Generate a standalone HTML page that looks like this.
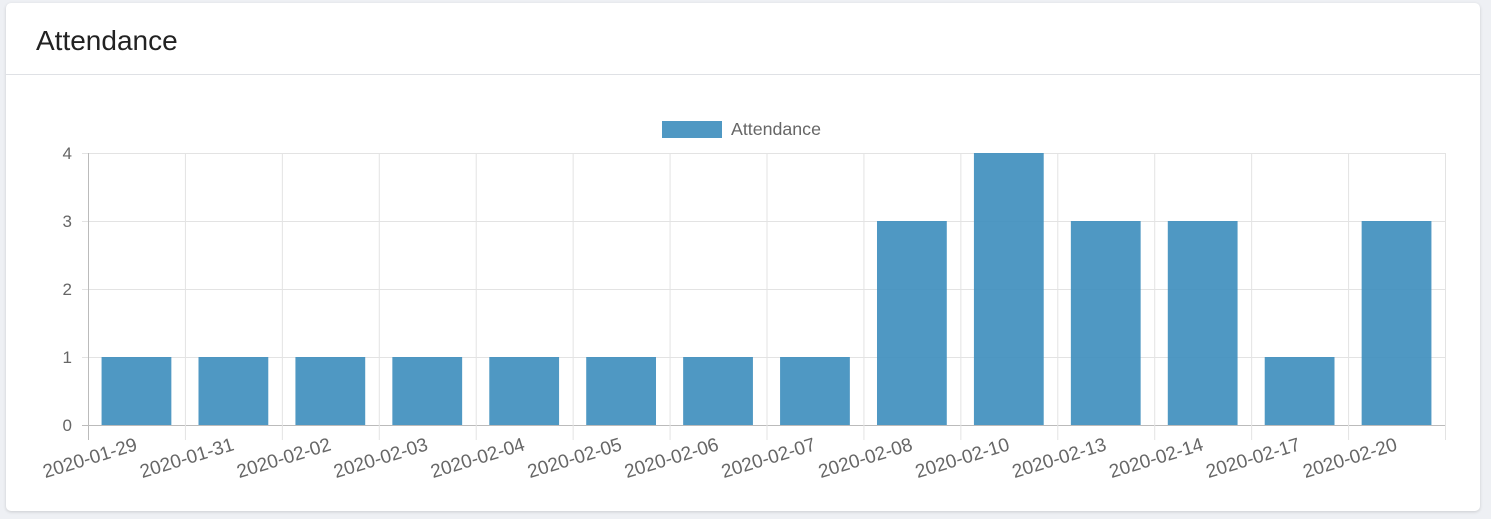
<!DOCTYPE html>
<html><head><meta charset="utf-8"><style>
body{margin:0;width:1491px;height:519px;background:#eef0f4;font-family:"Liberation Sans",sans-serif;overflow:hidden}
.card{position:absolute;left:6px;top:3px;width:1474px;height:508px;background:#fff;border-radius:5px;box-shadow:0 1px 3px rgba(0,0,0,.15)}
.hdr{height:72px;border-bottom:1px solid #dfe1e5;box-sizing:border-box}
.hdr h1{margin:0;position:absolute;left:30px;top:22px;font-size:28px;font-weight:normal;color:#222}
svg{position:absolute;left:0;top:0}
</style></head><body>
<div class="card">
<div class="hdr"><h1>Attendance</h1></div>
</div>
<svg id="c" width="1491" height="519"></svg>
<script>
const categories=["2020-01-29","2020-01-31","2020-02-02","2020-02-03","2020-02-04","2020-02-05","2020-02-06","2020-02-07","2020-02-08","2020-02-10","2020-02-13","2020-02-14","2020-02-17","2020-02-20"];
const values=[1,1,1,1,1,1,1,1,3,4,3,3,1,3];
const yTicks=[0,1,2,3,4];
const svg=document.getElementById('c');const NS="http://www.w3.org/2000/svg";
const L=88,R=1445,T=153,B=425,yMax=4;
const bw=(R-L)/categories.length;
const y=v=>B-(v/yMax)*(B-T);
const x=i=>L+i*bw;
function mk(t,a,p){const e=document.createElementNS(NS,t);for(const k in a)e.setAttribute(k,a[k]);(p||svg).appendChild(e);return e;}
yTicks.forEach(t=>{
 const g=mk('line',{x1:L-6,x2:R,y1:y(t)+.5,y2:y(t)+.5,stroke:t===0?'#bbb':'#e3e3e3'});
 
 const tx=mk('text',{x:L-16,y:y(t)+6,'text-anchor':'end','font-size':'17',fill:'#666'});tx.textContent=t;
 
});
for(let i=0;i<=categories.length;i++){
 const g=mk('line',{x1:x(i)+.5,x2:x(i)+.5,y1:T,y2:B+15,stroke:i===0?'#bbb':'#e3e3e3'});
 
}
categories.forEach((c,i)=>{
 const h=values[i];
 const r=mk('rect',{x:x(i)+bw*0.14,y:y(h),width:bw*0.72,height:B-y(h),fill:'rgba(60,141,188,0.9)'});
 
 const cx=x(i)+bw/2;
 const t=mk('text',{x:cx,y:B+25,'text-anchor':'end','font-size':'19',fill:'#666',transform:`rotate(-17 ${cx} ${B+19})`});
 t.textContent=c;
});
const lg=mk('rect',{x:662,y:121,width:60,height:17,fill:'rgba(60,141,188,0.9)'});

const lt=mk('text',{x:731,y:135,'font-size':'17.8',fill:'#666'});lt.textContent='Attendance';

</script>
</body></html>
